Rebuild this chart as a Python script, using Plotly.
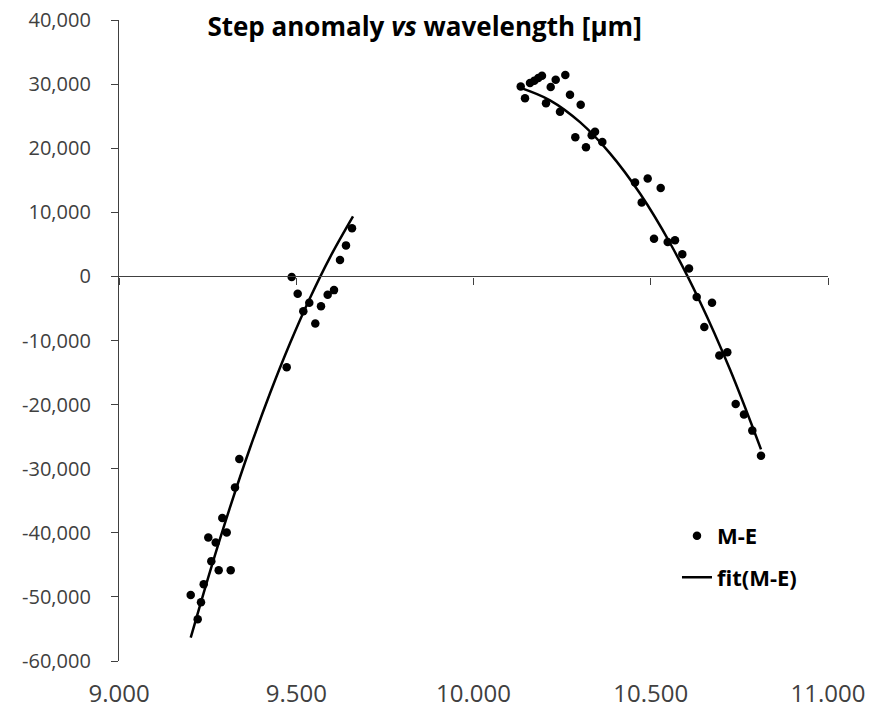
import plotly.graph_objects as go

# ---- data ----
me_x_left = [9.2023, 9.2220, 9.2313, 9.2389, 9.2519, 9.2604, 9.2728, 9.2812, 9.2914,
             9.3038, 9.3151, 9.3272, 9.3394, 9.4731, 9.4872, 9.5041, 9.5199, 9.5368,
             9.5537, 9.5698, 9.5887, 9.6065, 9.6234, 9.6403, 9.6573]
me_y_left = [-49690, -53480, -50830, -48020, -40730, -44420, -41520, -45830, -37700,
             -39950, -45830, -32920, -28480, -14170, -110, -2700, -5420, -4110,
             -7340, -4640, -2860, -2140, 2550, 4840, 7500]

me_x_right = [10.1332, 10.1453, 10.1594, 10.1715, 10.1828, 10.1932, 10.2045, 10.2178,
              10.2319, 10.2440, 10.2590, 10.2722, 10.2872, 10.3024, 10.3173, 10.3334,
              10.3428, 10.3633, 10.4556, 10.4745, 10.4914, 10.5092, 10.5281, 10.5478,
              10.5684, 10.5890, 10.6079, 10.6296, 10.6511, 10.6728, 10.6934, 10.7159,
              10.7396, 10.7630, 10.7865, 10.8110]
me_y_right = [29640, 27810, 30160, 30520, 30940, 31300, 27030, 29530,
              30670, 25670, 31410, 28330, 21720, 26770, 20160, 22030,
              22550, 20980, 14640, 11520, 15270, 5890, 13800, 5360,
              5630, 3440, 1250, -3200, -7900, -4120, -12340, -11830,
              -19890, -21560, -24060, -27970]

fit_x_left = [9.2023, 9.2567, 9.3131, 9.3695, 9.4260, 9.4824, 9.5388, 9.5952, 9.6601]
fit_y_left = [-56360, -46040, -36040, -26770, -18240, -10440, -3370, 2980, 9360]

fit_x_right = [10.1312, 10.2158, 10.3004, 10.3850, 10.4697, 10.5543, 10.6389, 10.7236, 10.8110]
fit_y_right = [29440, 27470, 24060, 19200, 12930, 5210, -3950, -14540, -26990]

x_ticks = [9.0, 9.5, 10.0, 10.5, 11.0]
x_labels = ["9.000", "9.500", "10.000", "10.500", "11.000"]
y_ticks = [40000, 30000, 20000, 10000, 0, -10000, -20000, -30000, -40000, -50000, -60000]
y_labels = [f"{v:,}" for v in y_ticks]

title_text = "<b>Step anomaly <i>vs</i> wavelength [µm]</b>"

# ---- figure ----
AXC = "#404040"
FONT = "Open Sans"

fig = go.Figure()

me_x = me_x_left + [None] + me_x_right
me_y = me_y_left + [None] + me_y_right
fig.add_trace(go.Scatter(
    x=me_x, y=me_y, mode="markers", name="M-E", legendgroup="a",
    marker=dict(color="black", size=8.5), connectgaps=False,
))

fit_x = fit_x_left + [None] + fit_x_right
fit_y = fit_y_left + [None] + fit_y_right
fig.add_trace(go.Scatter(
    x=fit_x, y=fit_y, mode="lines", name="fit(M-E)", legendgroup="b",
    line=dict(color="black", width=2.5, shape="spline", smoothing=1.0),
    connectgaps=False, xaxis="x2",
))

fig.update_layout(
    width=869, height=711,
    margin=dict(l=119, r=41, t=20, b=50, autoexpand=False),
    plot_bgcolor="white", paper_bgcolor="white",
    font=dict(family=FONT, color=AXC, size=20),
    showlegend=True,
    legend=dict(
        x=0.787, xanchor="left", y=0.228, yanchor="top",
        bgcolor="rgba(0,0,0,0)", font=dict(family=FONT, size=22, color="black", weight="bold"),
        traceorder="grouped", tracegroupgap=10, itemwidth=30,
    ),
    xaxis=dict(
        range=[9, 11], tickvals=x_ticks, ticktext=x_labels, automargin=False,
        showline=False, showgrid=False, zeroline=False, ticks="",
        ticklabelstandoff=16, tickfont=dict(family=FONT, size=24, color=AXC),
    ),
    xaxis2=dict(
        range=[9, 11], overlaying="x", anchor="free", position=0.6, side="bottom",
        showline=True, linecolor=AXC, linewidth=1.3, automargin=False,
        ticks="outside", ticklen=7, tickwidth=1.3, tickcolor=AXC,
        tickvals=x_ticks, showticklabels=False, showgrid=False, zeroline=False,
    ),
    yaxis=dict(
        range=[-60000, 40000], tickvals=y_ticks, ticktext=y_labels, automargin=False,
        showline=True, linecolor=AXC, linewidth=1.3,
        ticks="outside", ticklen=7, tickwidth=1.3, tickcolor=AXC,
        showgrid=False, zeroline=False, ticklabelstandoff=16,
        tickfont=dict(family=FONT, size=20, color=AXC),
    ),
    title=dict(
        text=title_text, xref="paper", x=0.431, xanchor="center",
        yref="container", y=0.962, yanchor="middle", automargin=False,
        font=dict(family=FONT, size=26, color="black"),
    ),
)

fig.write_html("out.html")
